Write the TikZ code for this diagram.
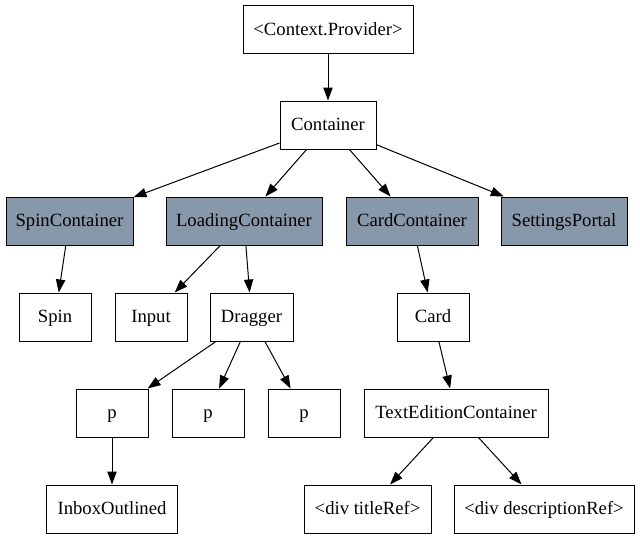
\documentclass[tikz,border=0pt]{standalone}
\usepackage{fontspec}
\setmainfont{Liberation Serif}
\usetikzlibrary{arrows.meta}

\definecolor{slatefill}{RGB}{135,152,170}

\tikzset{every picture/.style={line width=0.75pt}}
\tikzset{
  comp/.style={draw=black, inner sep=0pt, minimum height=36pt, text height=10.5pt, text depth=2pt, font=\fontsize{14}{16}\selectfont},
  shaded/.style={comp, fill=slatefill},
  edge/.style={-{Triangle[length=9.75pt,width=7pt]}},
}

\begin{document}
\begin{tikzpicture}[x=0.75pt,y=0.75pt,yscale=-1]
\useasboundingbox (0,0) rectangle (640,539);

%Top level
\node [comp, minimum width=127.5pt] (provider) at (328,29.5) {<Context.Provider>};
\node [comp, minimum width=72pt] (container) at (328,125) {Container};

%Second row (filled)
\node [shaded, minimum width=95.25pt] (spincont) at (69.5,221) {SpinContainer};
\node [shaded, minimum width=117pt] (loadcont) at (244,221) {LoadingContainer};
\node [shaded, minimum width=99pt] (cardcont) at (412,221) {CardContainer};
\node [shaded, minimum width=94.5pt] (settings) at (564,221) {SettingsPortal};

%Third row
\node [comp, minimum width=54pt] (spin) at (55,317) {Spin};
\node [comp, minimum width=54pt] (input) at (151,317) {Input};
\node [comp, minimum width=62.25pt] (dragger) at (251.5,317) {Dragger};
\node [comp, minimum width=54pt] (card) at (433,317) {Card};

%Fourth row
\node [comp, minimum width=54pt] (pa) at (112,413) {p};
\node [comp, minimum width=54pt] (pb) at (208,413) {p};
\node [comp, minimum width=54pt] (pc) at (304,413) {p};
\node [comp, minimum width=138pt] (textedit) at (456,413) {TextEditionContainer};

%Bottom row
\node [comp, minimum width=98.25pt] (inbox) at (112,509) {InboxOutlined};
\node [comp, minimum width=95.25pt] (titleref) at (367.5,509) {<div titleRef>};
\node [comp, minimum width=135pt] (descref) at (544,509) {<div descriptionRef>};

%Edges
\draw [edge] (provider) -- (container);
\draw [edge] (container) -- (spincont);
\draw [edge] (container) -- (loadcont);
\draw [edge] (container) -- (cardcont);
\draw [edge] (container) -- (settings);
\draw [edge] (spincont) -- (spin);
\draw [edge] (loadcont) -- (input);
\draw [edge] (loadcont) -- (dragger);
\draw [edge] (cardcont) -- (card);
\draw [edge] (dragger) -- (pa);
\draw [edge] (dragger) -- (pb);
\draw [edge] (dragger) -- (pc);
\draw [edge] (card) -- (textedit);
\draw [edge] (pa) -- (inbox);
\draw [edge] (textedit) -- (titleref);
\draw [edge] (textedit) -- (descref);

\end{tikzpicture}
\end{document}
